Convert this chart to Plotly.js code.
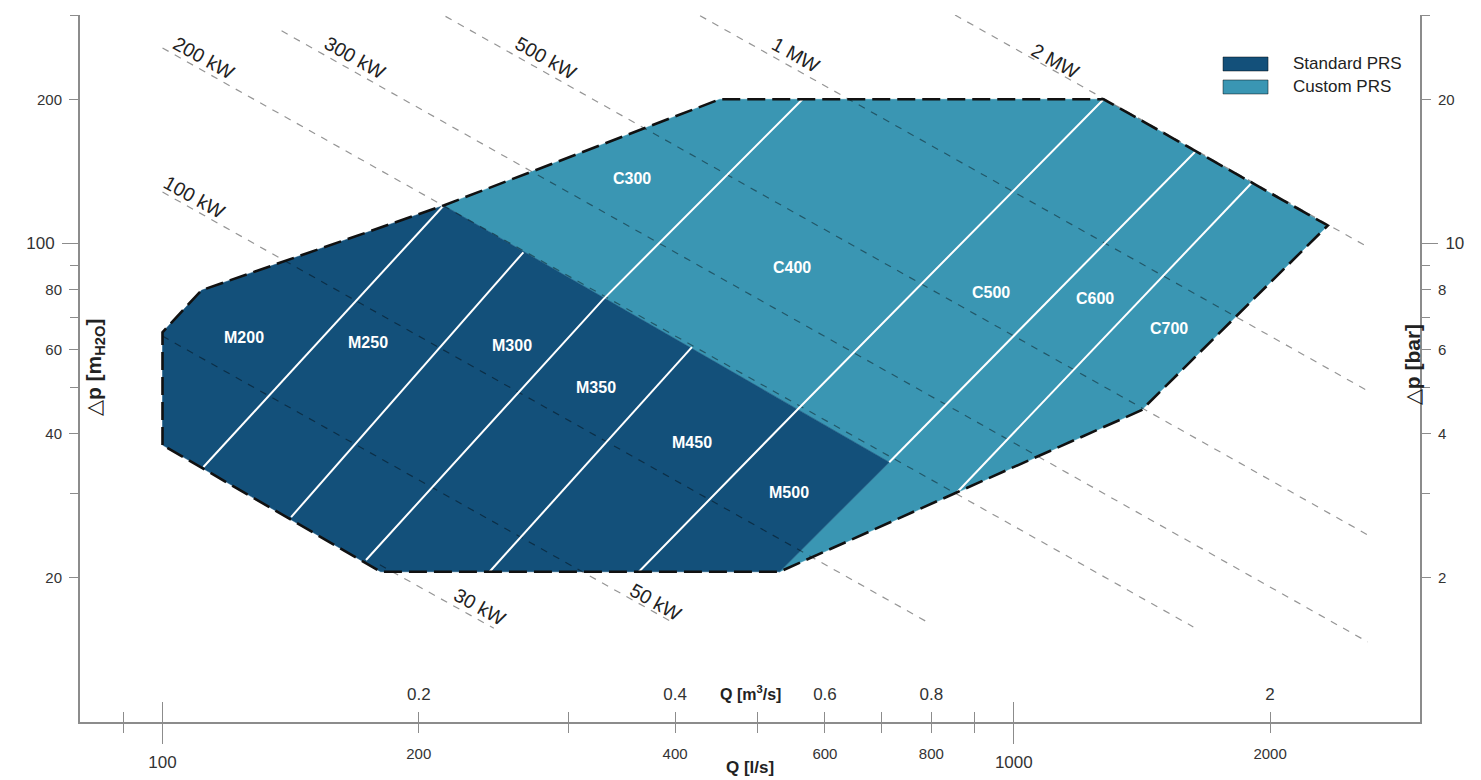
<!DOCTYPE html>
<html><head><meta charset="utf-8">
<script src="https://cdn.plot.ly/plotly-3.0.1.min.js"></script>
<style>html,body{margin:0;padding:0;background:#fff}#chart{width:1481px;height:780px}</style>
</head><body><div id="chart"></div>
<script>
// ---- tick values / labels ----
const qTicksMajor = [100, 1000];
const qTickLabelsMajor = ['100', '1000'];
const qTicksLabeled = [200, 400, 600, 800, 2000];
const qTickLabels = ['200', '400', '600', '800', '2000'];
const qM3sLabels = ['0.2', '0.4', '0.6', '0.8', '2'];
const qTicksPlain = [90, 300, 500, 700, 900];
const dpTicksLabeled = [20, 40, 60, 80, 200];
const dpLabels = ['20', '40', '60', '80', '200'];
const barLabels = ['2', '4', '6', '8', '20'];
const dpTicksPlain = [30, 50, 70, 90, 300];
const dpTicksMajor = [100];
const dpLabelsMajor = ['100'];
const barLabelsMajor = ['10'];

// ---- regions (Q [l/s], dp [mH2O]) ----
const standardQ  = [100, 100, 111.1, 213.9, 714, 530.7, 180.4, 100];
const standardDp = [37.9, 65.2, 79.8, 120.0, 34.9, 20.6, 20.6, 37.9];
const customQ  = [213.9, 451.4, 1275, 2338, 1412, 857.8, 530.7, 714, 213.9];
const customDp = [120.0, 200, 200, 109.0, 44.8, 30.2, 20.6, 34.9, 120.0];
const outlineQ  = [100, 100, 111.1, 213.9, 451.4, 1275, 2338, 1412, 857.8, 530.7, 180.4, 100];
const outlineDp = [37.9, 65.2, 79.8, 120.0, 200, 200, 109.0, 44.8, 30.2, 20.6, 20.6, 37.9];

// ---- model divider lines ----
const dividerQ = [
  [111.7, 213.9],
  [141.6, 265.4],
  [173.4, 329.3, 564.7],
  [242.2, 418.7],
  [362.7, 558.6, 1275],
  [714, 1634],
  [857.8, 1900]
];
const dividerDp = [
  [34.1, 120.0],
  [26.8, 95.8],
  [21.8, 76.4, 200],
  [20.6, 60.7],
  [20.6, 45.2, 200],
  [34.9, 155.6],
  [30.2, 133.4]
];

// ---- model labels ----
const modelNames = ['M200', 'M250', 'M300', 'M350', 'M450', 'M500', 'C300', 'C400', 'C500', 'C600', 'C700'];
const modelQ  = [124.8, 174.3, 257.6, 323.1, 418.7, 543.7, 355.9, 549.5, 940, 1247, 1523];
const modelDp = [63.6, 62.1, 61.2, 50.0, 38.4, 30.2, 136.7, 89.1, 79.0, 76.8, 66.4];

// ---- constant power lines ----
const powerNames   = ['30 kW', '50 kW', '100 kW', '200 kW', '300 kW', '500 kW', '1 MW', '2 MW'];
const powerQStart  = [180, 100, 100, 100, 138, 215, 428, 853];
const powerDpStart = [21.3, 64, 128, 256, 278, 298, 299, 300];
const powerQEnd    = [245, 396, 800, 1625, 2604, 2604, 2604, 2604];
const powerDpEnd   = [15.7, 16.2, 16.0, 15.8, 14.7, 24.6, 49.2, 98.3];
const powerLabelQ  = [236.3, 379.8, 109.0, 112.0, 168.7, 282.3, 555.5, 1120];
const powerLabelDp = [17.38, 17.80, 124.7, 244.5, 244.5, 244.5, 246.9, 241.0];

// ---- legend ----
const legendNames = ['Standard PRS', 'Custom PRS'];
const DARK = '#13507a', LIGHT = '#3a96b3';
const legendColors = [DARK, LIGHT];

const FONT = 'Liberation Sans, Arial, sans-serif';
const AX = '#8c8c8c';
const L = Math.log10;
const xRange = [L(80), L(3000)];
const yRange = [L(10), L(300)];

const traces = [];
traces.push({type: 'scatter', mode: 'lines', x: customQ, y: customDp, fill: 'toself',
  fillcolor: LIGHT, line: {color: LIGHT, width: 0.5}, name: 'Custom PRS', showlegend: false, hoverinfo: 'skip'});
traces.push({type: 'scatter', mode: 'lines', x: standardQ, y: standardDp, fill: 'toself',
  fillcolor: DARK, line: {color: DARK, width: 0.5}, name: 'Standard PRS', showlegend: false, hoverinfo: 'skip'});
for (let i = 0; i < powerNames.length; i++) {
  traces.push({type: 'scatter', mode: 'lines', x: [powerQStart[i], powerQEnd[i]], y: [powerDpStart[i], powerDpEnd[i]],
    line: {color: 'rgba(0,0,0,0.42)', width: 1.2, dash: '7px,7px'}, showlegend: false, hoverinfo: 'skip'});
}
for (let i = 0; i < dividerQ.length; i++) {
  traces.push({type: 'scatter', mode: 'lines', x: dividerQ[i], y: dividerDp[i],
    line: {color: '#ffffff', width: 2}, showlegend: false, hoverinfo: 'skip'});
}
traces.push({type: 'scatter', mode: 'lines', x: outlineQ, y: outlineDp,
  line: {color: '#111111', width: 2.6, dash: '18px,7px'}, showlegend: false, hoverinfo: 'skip'});
// empty traces so overlay axes are created
['x2', 'x3', 'x4', 'x5', 'x6'].forEach(a => traces.push({type: 'scatter', x: [], y: [], xaxis: a, yaxis: 'y', showlegend: false, hoverinfo: 'skip'}));
['y2', 'y3', 'y4', 'y5', 'y6'].forEach(a => traces.push({type: 'scatter', x: [], y: [], xaxis: 'x', yaxis: a, showlegend: false, hoverinfo: 'skip'}));

function xAx(extra) {
  return Object.assign({type: 'log', range: xRange, showgrid: false, zeroline: false, showline: false,
    tickmode: 'array', tickcolor: AX, tickwidth: 1, fixedrange: true, overlaying: 'x', anchor: 'y',
    tickfont: {family: FONT, size: 15, color: '#333'}}, extra);
}
function yAx(extra) {
  return Object.assign({type: 'log', range: yRange, showgrid: false, zeroline: false, showline: false,
    tickmode: 'array', tickcolor: AX, tickwidth: 1, fixedrange: true, overlaying: 'y', anchor: 'x',
    tickfont: {family: FONT, size: 15, color: '#333'}}, extra);
}

const annotations = [];
for (let i = 0; i < modelNames.length; i++) {
  annotations.push({x: L(modelQ[i]), y: L(modelDp[i]), xref: 'x', yref: 'y', text: '<b>' + modelNames[i] + '</b>',
    showarrow: false, xanchor: 'center', yanchor: 'middle', font: {family: FONT, size: 16, color: '#ffffff'}});
}
for (let i = 0; i < powerNames.length; i++) {
  annotations.push({x: L(powerLabelQ[i]), y: L(powerLabelDp[i]), xref: 'x', yref: 'y', text: powerNames[i],
    showarrow: false, xanchor: 'center', yanchor: 'middle', textangle: 29.3, font: {family: FONT, size: 19.5, color: '#222'}});
}
annotations.push({x: 0.5, y: 0.041, xref: 'paper', yref: 'paper', xanchor: 'center', yanchor: 'middle',
  text: '<b>Q [m<sup>3</sup>/s]</b>', showarrow: false, font: {family: FONT, size: 16, color: '#222'}});
annotations.push({x: 0.5, y: -0.064, xref: 'paper', yref: 'paper', xanchor: 'center', yanchor: 'middle',
  text: '<b>Q [l/s]</b>', showarrow: false, font: {family: FONT, size: 17, color: '#222'}});
annotations.push({x: 0.0112, y: 0.502, xref: 'paper', yref: 'paper', xanchor: 'center', yanchor: 'middle',
  text: '△<b>p [m<sub>H2O</sub>]</b>', textangle: -90, showarrow: false, font: {family: FONT, size: 21, color: '#222'}});
annotations.push({x: 0.994, y: 0.506, xref: 'paper', yref: 'paper', xanchor: 'center', yanchor: 'middle',
  text: '△<b>p [bar]</b>', textangle: -90, showarrow: false, font: {family: FONT, size: 21, color: '#222'}});

// legend (manual)
const legY = [0.9307, 0.8982];
const shapes = [];
for (let i = 0; i < legendNames.length; i++) {
  shapes.push({type: 'rect', xref: 'paper', yref: 'paper', x0: 0.853, x1: 0.8866, y0: legY[i] - 0.0099, y1: legY[i] + 0.0099,
    fillcolor: legendColors[i], line: {color: 'rgba(0,0,0,0.45)', width: 1}});
  annotations.push({x: 0.9037, y: legY[i], xref: 'paper', yref: 'paper', xanchor: 'left', yanchor: 'middle', text: legendNames[i],
    showarrow: false, font: {family: FONT, size: 17, color: '#222'}});
}

const layout = {
  width: 1481, height: 780,
  margin: {l: 80, r: 61, t: 15, b: 58, pad: 0},
  paper_bgcolor: '#fff', plot_bgcolor: '#fff',
  showlegend: false,
  xaxis: xAx({overlaying: false, showline: true, linecolor: AX, linewidth: 2, tickvals: qTicksMajor, ticktext: qTickLabelsMajor,
    ticks: 'outside', ticklen: 20, ticklabelstandoff: 4, tickfont: {family: FONT, size: 17, color: '#333'}}),
  xaxis2: xAx({tickvals: qTicksLabeled, ticktext: qTickLabels, ticks: 'outside', ticklen: 10, ticklabelstandoff: 8}),
  xaxis3: xAx({tickvals: qTicksLabeled, ticktext: qM3sLabels, ticks: 'inside', ticklen: 10,
    ticklabelposition: 'inside', ticklabelstandoff: 9, tickfont: {family: FONT, size: 17, color: '#333'}}),
  xaxis4: xAx({tickvals: qTicksMajor, ticks: 'inside', ticklen: 20, showticklabels: false}),
  xaxis5: xAx({tickvals: qTicksPlain, ticks: 'outside', ticklen: 10, showticklabels: false}),
  xaxis6: xAx({tickvals: qTicksPlain, ticks: 'inside', ticklen: 10, showticklabels: false}),
  yaxis: yAx({overlaying: false, showline: true, linecolor: AX, linewidth: 2, tickvals: dpTicksLabeled, ticktext: dpLabels,
    ticks: 'outside', ticklen: 9, ticklabelstandoff: 4}),
  yaxis3: yAx({side: 'left', tickvals: dpTicksMajor, ticktext: dpLabelsMajor,
    ticks: 'outside', ticklen: 17, tickfont: {family: FONT, size: 17, color: '#333'}, ticklabelstandoff: 4}),
  yaxis5: yAx({side: 'left', tickvals: dpTicksPlain, ticks: 'outside', ticklen: 9, showticklabels: false}),
  yaxis2: yAx({side: 'right', showline: true, linecolor: AX, linewidth: 2,
    tickvals: dpTicksLabeled, ticktext: barLabels, ticks: 'outside', ticklen: 9, ticklabelstandoff: 4}),
  yaxis4: yAx({side: 'right', tickvals: dpTicksMajor, ticktext: barLabelsMajor,
    ticks: 'outside', ticklen: 17, tickfont: {family: FONT, size: 17, color: '#333'}, ticklabelstandoff: 4}),
  yaxis6: yAx({side: 'right', tickvals: dpTicksPlain, ticks: 'outside', ticklen: 9, showticklabels: false}),
  annotations: annotations,
  shapes: shapes
};
delete layout.xaxis.overlaying;
delete layout.yaxis.overlaying;

Plotly.newPlot('chart', traces, layout, {displayModeBar: false, staticPlot: true});
</script>
</body></html>
